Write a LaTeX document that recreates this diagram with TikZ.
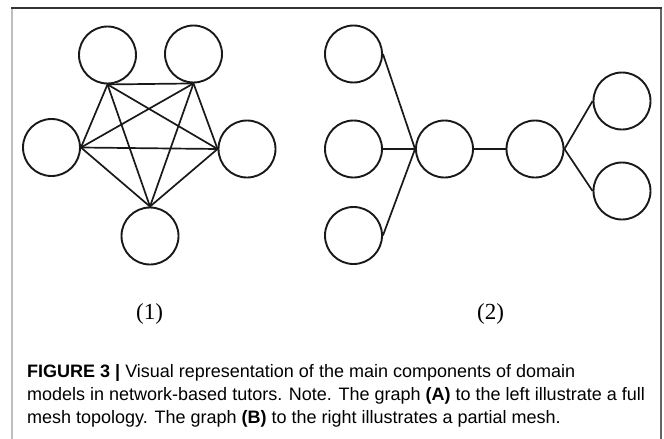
\documentclass[tikz,border=0pt]{standalone}
\usepackage{fontspec}
\setmainfont{Liberation Serif}
\setsansfont{Liberation Sans}
\begin{document}
\begin{tikzpicture}[x=1pt,y=-1pt,
  vtx/.style={circle,draw=black!90,line width=1.9pt,minimum size=57pt,inner sep=0pt},
  edge/.style={draw=black!90,line width=1.7pt},
  lbl/.style={font=\fontsize{23}{25}\selectfont\rmfamily,inner sep=0pt},
  captext/.style={font=\fontsize{18}{20}\selectfont\sffamily,anchor=base west,inner sep=0pt}]
\useasboundingbox (0,0) rectangle (664,439);
\fill[white] (0,0) rectangle (664,439);
% frame
\draw[line width=2pt,color=black!25] (12,8) -- (12,439);
\draw[line width=1.5pt,color=black!60] (661,8) -- (661,439);
\draw[line width=1.5pt,color=black!80] (11,8) -- (661.75,8);
% graph (1): full mesh
\node[vtx] (a1) at (107.5,55) {};
\node[vtx] (a2) at (193.5,54) {};
\node[vtx] (a3) at (51.5,147.5) {};
\node[vtx] (a4) at (247,149) {};
\node[vtx] (a5) at (150,236) {};
\draw[edge] (a1.south) -- (a2.south);
\draw[edge] (a1.south) -- (a3.east);
\draw[edge] (a1.south) -- (a4.west);
\draw[edge] (a1.south) -- (a5.north);
\draw[edge] (a2.south) -- (a3.east);
\draw[edge] (a2.south) -- (a4.west);
\draw[edge] (a2.south) -- (a5.north);
\draw[edge] (a3.east) -- (a4.west);
\draw[edge] (a3.east) -- (a5.north);
\draw[edge] (a4.west) -- (a5.north);
% graph (2): partial mesh
\node[vtx] (b1) at (353.5,54) {};
\node[vtx] (b2) at (353.5,149) {};
\node[vtx] (b3) at (353.5,235.5) {};
\node[vtx] (c1) at (444.5,149) {};
\node[vtx] (c2) at (535,149) {};
\node[vtx] (d1) at (622,101) {};
\node[vtx] (d2) at (622,191) {};
\draw[edge] (b1.east) -- (c1.west);
\draw[edge] (b2.east) -- (c1.west);
\draw[edge] (b3.east) -- (c1.west);
\draw[edge] (c1.east) -- (c2.west);
\draw[edge] (c2.east) -- (d1.west);
\draw[edge] (c2.east) -- (d2.west);
% labels
\node[lbl] (l1) at (149.5,314) {(1)};
\node[lbl] (l2) at (490.5,314) {(2)};
% caption
\node[captext] (cap1) at (27,377) {\textbf{FIGURE 3 |} Visual representation of the main components of domain};
\node[captext] (cap2) at (27,400) {models in network-based tutors. Note. The graph \textbf{(A)} to the left illustrate a full};
\node[captext] (cap3) at (27,423) {mesh topology. The graph \textbf{(B)} to the right illustrates a partial mesh.};
\end{tikzpicture}
\end{document}
